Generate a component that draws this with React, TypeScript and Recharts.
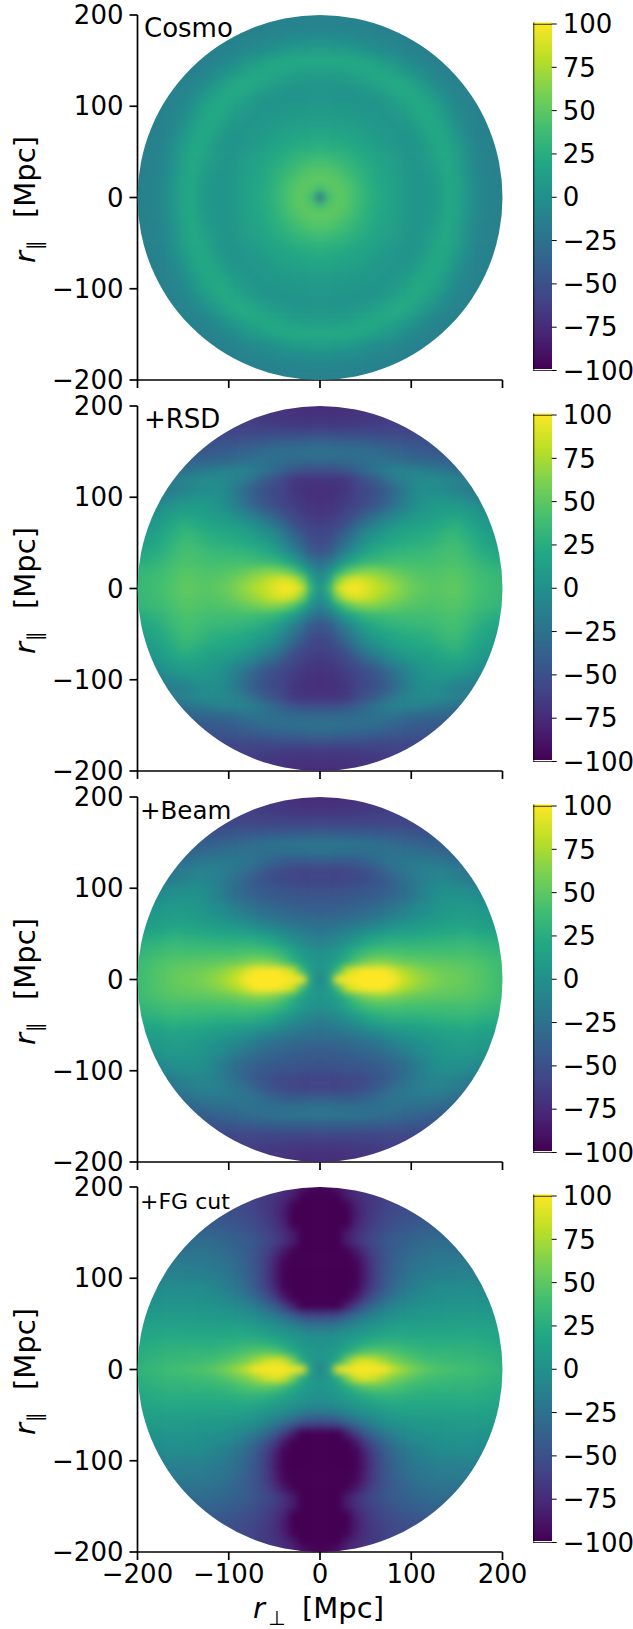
import React from "react";
import { ScatterChart, Scatter, BarChart, Bar, XAxis, YAxis } from "recharts";

const panelNames = ["Cosmo", "+RSD", "+Beam", "+FG cut"];
const axisTicks = [-200, -100, 0, 100, 200];
const colorTicks = [-100, -75, -50, -25, 0, 25, 50, 75, 100];
const colorRange = [-100, 100];
const viridis = ["#440154", "#482475", "#414487", "#355f8d", "#2a788e", "#21918c", "#22a884", "#44bf70", "#7ad151", "#bddf26", "#fde725"];

// one quadrant per panel, rows are r_par = 0, 10, 20.. and columns r_perp = 0, 10, 20..
const cosmoRows = [
  [-25, 38, 50, 46, 38, 30, 24, 18, 14, 9, 4, 3, 5, 9, 19, 17, 5, -4, -10, -12, -13, -14],
  [38, 47, 49, 45, 37, 29, 23, 18, 14, 9, 4, 3, 5, 9, 19, 17, 5, -4, -10, -12, -13, -14],
  [50, 49, 47, 41, 34, 28, 22, 17, 13, 9, 4, 3, 6, 11, 20, 16, 4, -5, -10, -12, -13, -14],
  [46, 45, 41, 36, 30, 25, 20, 16, 12, 7, 4, 3, 7, 13, 21, 15, 2, -6, -11, -13, -13, -14],
  [38, 37, 34, 30, 26, 22, 17, 14, 10, 6, 3, 4, 9, 15, 20, 12, 0, -8, -12, -13, -13, -14],
  [30, 29, 28, 25, 22, 18, 15, 12, 8, 4, 3, 5, 12, 19, 19, 11, 0, -8, -12, -13, -14, -14],
  [24, 23, 22, 20, 17, 15, 12, 8, 5, 3, 3, 6, 14, 20, 18, 9, -1, -8, -12, -13, -13, -14],
  [18, 18, 17, 16, 14, 12, 8, 6, 4, 3, 4, 10, 18, 20, 15, 4, -6, -11, -13, -13, -14, -14],
  [14, 14, 13, 12, 10, 8, 6, 4, 3, 4, 8, 15, 20, 18, 11, 1, -7, -11, -13, -13, -14],
  [9, 9, 9, 7, 6, 5, 4, 3, 4, 7, 14, 19, 20, 15, 5, -4, -10, -12, -13, -14, -14],
  [6, 6, 5, 5, 4, 3, 3, 4, 7, 12, 18, 21, 18, 11, 2, -6, -11, -13, -13, -14, -14],
  [4, 4, 3, 3, 3, 3, 4, 7, 12, 17, 21, 18, 12, 4, -4, -9, -12, -13, -14, -14],
  [3, 3, 3, 3, 4, 7, 10, 15, 19, 21, 18, 12, 4, -3, -8, -12, -13, -13, -14, -14],
  [7, 7, 8, 9, 12, 15, 18, 20, 20, 17, 11, 4, -3, -8, -11, -13, -13, -14, -14],
  [14, 14, 14, 16, 18, 20, 19, 16, 12, 6, 2, -4, -8, -11, -13, -13, -14, -14],
  [21, 21, 21, 20, 19, 17, 14, 9, 4, -1, -6, -9, -12, -13, -13, -14, -14],
  [12, 12, 11, 10, 7, 3, 0, -3, -6, -9, -11, -12, -13, -13, -14, -14],
  [2, 2, 1, 0, -2, -4, -6, -8, -10, -12, -13, -13, -14, -14, -14],
  [-7, -7, -7, -8, -8, -10, -11, -12, -13, -13, -13, -14, -14, -14],
  [-11, -11, -11, -11, -12, -12, -13, -13, -13, -13, -14, -14],
  [-13, -13, -13, -13, -13, -14, -14, -14, -14],
  [-14, -14, -14, -14, -14, -14],
];

const rsdRows = [
  [0, 30, 85, 98, 98, 92, 84, 78, 70, 62, 56, 52, 48, 48, 50, 50, 45, 41, 38, 35, 33, 32],
  [-5, 15, 60, 84, 90, 86, 78, 70, 64, 58, 52, 48, 46, 46, 48, 48, 44, 40, 37, 34, 32, 31],
  [-15, -2, 22, 42, 55, 60, 60, 56, 52, 48, 46, 44, 43, 44, 46, 46, 42, 38, 35, 32, 30, 29],
  [-30, -22, -5, 10, 22, 30, 34, 36, 37, 38, 38, 38, 38, 40, 42, 42, 38, 33, 29, 25, 23, 22],
  [-48, -42, -26, -10, 4, 14, 22, 26, 29, 31, 32, 33, 34, 37, 40, 39, 34, 28, 23, 19, 17, 16],
  [-55, -50, -38, -24, -10, 2, 10, 16, 20, 23, 25, 26, 28, 31, 36, 36, 30, 24, 18, 14, 12, 11],
  [-59, -56, -46, -34, -18, -6, 2, 8, 13, 17, 20, 22, 24, 27, 31, 32, 26, 20, 14, 10, 7, 6],
  [-63, -61, -56, -48, -34, -22, -12, -4, 2, 8, 12, 14, 16, 20, 24, 26, 20, 14, 9, 5, 2, 1],
  [-67, -66, -62, -56, -48, -36, -28, -18, -10, -3, 4, 8, 10, 14, 16, 16, 12, 8, 3, 0, -3],
  [-71, -70, -67, -62, -58, -52, -44, -36, -26, -16, -6, 1, 5, 8, 9, 8, 4, 0, -5, -8, -11],
  [-73, -72, -70, -66, -60, -55, -50, -42, -32, -20, -9, -1, 2, 3, 1, -3, -7, -11, -15, -18, -20],
  [-74, -73, -71, -68, -60, -56, -50, -43, -34, -22, -12, -3, -4, -6, -9, -13, -17, -21, -24, -26],
  [-70, -70, -69, -66, -58, -50, -42, -32, -22, -14, -10, -6, -4, -6, -9, -13, -17, -20, -23, -25],
  [-52, -52, -50, -46, -40, -32, -25, -18, -14, -12, -13, -14, -18, -20, -24, -27, -30, -32, -34],
  [-32, -32, -32, -31, -30, -28, -26, -26, -27, -29, -32, -33, -34, -35, -36, -38, -40, -42],
  [-26, -26, -26, -27, -27, -28, -29, -32, -36, -38, -40, -42, -44, -45, -46, -47, -48],
  [-36, -36, -37, -38, -39, -40, -42, -44, -46, -47, -48, -49, -50, -50, -51, -52],
  [-54, -54, -54, -54, -55, -55, -56, -56, -57, -57, -57, -57, -58, -58, -58],
  [-67, -67, -67, -66, -66, -65, -64, -63, -62, -62, -61, -60, -60, -60],
  [-72, -72, -71, -71, -70, -69, -68, -67, -66, -66, -65, -65],
  [-76, -76, -75, -74, -72, -71, -70, -68, -67],
  [-78, -78, -76, -74, -73, -72],
];

const beamRows = [
  [-14, 15, 105, 120, 125, 125, 125, 120, 108, 88, 78, 70, 64, 60, 56, 54, 52, 48, 44, 40, 36, 34],
  [3, 8, 36, 82, 95, 100, 102, 100, 90, 78, 70, 64, 60, 56, 54, 52, 50, 47, 44, 40, 36, 34],
  [3, 6, 14, 28, 44, 56, 62, 62, 58, 54, 52, 50, 49, 48, 48, 47, 46, 44, 41, 38, 35, 33],
  [-2, 2, 8, 18, 28, 36, 40, 42, 42, 41, 40, 40, 39, 39, 39, 39, 39, 37, 35, 32, 30, 29],
  [-13, -10, -5, 3, 10, 18, 24, 27, 29, 29, 29, 29, 30, 31, 32, 32, 33, 31, 29, 27, 25, 24],
  [-20, -18, -14, -10, -4, 3, 8, 11, 14, 16, 17, 18, 20, 21, 22, 23, 24, 22, 20, 18, 17, 16],
  [-27, -26, -24, -21, -18, -14, -10, -6, -2, 2, 5, 8, 10, 12, 15, 15, 15, 14, 12, 10, 9, 8],
  [-35, -35, -34, -32, -30, -27, -24, -20, -15, -10, -5, -1, 3, 6, 9, 10, 10, 9, 8, 6, 5, 4],
  [-42, -42, -41, -39, -37, -34, -31, -27, -23, -17, -11, -5, -1, 3, 5, 6, 6, 5, 3, 1, -1],
  [-48, -47, -46, -45, -44, -42, -40, -37, -33, -28, -22, -14, -6, 0, 2, 2, 0, -2, -4, -7, -9],
  [-53, -52, -51, -50, -49, -47, -45, -42, -38, -31, -24, -15, -8, -3, -2, -3, -5, -8, -11, -13, -15],
  [-60, -60, -59, -58, -57, -54, -50, -45, -38, -30, -22, -16, -12, -10, -10, -13, -18, -21, -24, -26],
  [-60, -60, -59, -58, -55, -51, -45, -38, -30, -24, -19, -15, -13, -13, -15, -18, -22, -25, -27, -29],
  [-42, -43, -44, -44, -42, -38, -32, -27, -24, -22, -20, -19, -20, -22, -25, -28, -31, -33, -35],
  [-26, -26, -27, -28, -28, -28, -27, -26, -26, -26, -27, -28, -30, -32, -34, -37, -39, -41],
  [-23, -23, -23, -24, -25, -26, -28, -30, -32, -34, -36, -38, -40, -42, -43, -45, -46],
  [-42, -42, -42, -42, -42, -43, -43, -44, -45, -46, -47, -48, -49, -50, -51, -52],
  [-56, -56, -56, -56, -56, -56, -56, -56, -56, -56, -57, -57, -58, -58, -58],
  [-66, -66, -65, -65, -64, -64, -63, -62, -62, -61, -60, -60, -60, -60],
  [-72, -72, -71, -70, -69, -68, -67, -66, -65, -64, -63, -63],
  [-76, -76, -75, -74, -72, -71, -69, -68, -67],
  [-78, -78, -76, -74, -73, -72],
];

const fgRows = [
  [-15, 12, 95, 115, 120, 120, 120, 108, 85, 72, 62, 54, 48, 44, 42, 40, 38, 36, 34, 31, 29, 28],
  [2, 5, 22, 58, 86, 90, 84, 72, 60, 53, 47, 42, 38, 36, 35, 34, 33, 32, 30, 28, 26, 25],
  [4, 6, 12, 22, 34, 44, 47, 46, 43, 39, 35, 32, 30, 30, 30, 29, 29, 28, 27, 25, 23, 22],
  [0, 1, 4, 10, 16, 22, 26, 28, 28, 27, 26, 25, 24, 24, 24, 24, 24, 24, 23, 21, 20, 19],
  [-8, -7, -4, 0, 4, 8, 12, 15, 17, 18, 18, 18, 18, 18, 18, 18, 18, 18, 17, 16, 15, 14],
  [-28, -27, -23, -17, -10, -4, 1, 5, 8, 10, 11, 11, 12, 12, 13, 13, 13, 13, 13, 12, 11, 10],
  [-62, -60, -54, -42, -30, -20, -12, -5, -1, 2, 4, 5, 6, 7, 8, 8, 9, 9, 9, 8, 7, 6],
  [-115, -110, -102, -82, -62, -44, -30, -20, -12, -6, -2, 0, 1, 2, 3, 3, 3, 3, 3, 2, 1, 0],
  [-120, -120, -115, -105, -85, -65, -48, -35, -25, -16, -10, -6, -3, -1, 0, 0, 0, -1, -1, -2, -3],
  [-125, -125, -120, -112, -97, -78, -60, -45, -33, -24, -17, -12, -8, -5, -4, -4, -4, -5, -6, -7, -8],
  [-125, -125, -125, -115, -99, -82, -63, -48, -37, -28, -21, -17, -14, -12, -11, -11, -11, -12, -13, -13, -14],
  [-125, -125, -125, -115, -99, -82, -64, -50, -39, -31, -25, -21, -18, -16, -15, -15, -16, -17, -18, -19],
  [-125, -125, -120, -112, -97, -80, -64, -51, -42, -35, -29, -25, -22, -20, -20, -20, -21, -22, -23, -24],
  [-120, -120, -115, -105, -87, -72, -60, -50, -43, -38, -33, -29, -26, -25, -25, -26, -27, -28, -29],
  [-112, -110, -102, -84, -72, -62, -54, -48, -43, -39, -36, -33, -30, -29, -29, -30, -32, -33],
  [-112, -110, -102, -85, -74, -65, -58, -52, -48, -44, -41, -38, -36, -35, -36, -37, -38],
  [-120, -118, -110, -100, -80, -70, -62, -57, -53, -49, -46, -44, -43, -42, -43, -44],
  [-120, -118, -110, -102, -84, -72, -65, -60, -56, -53, -50, -49, -48, -48, -48],
  [-118, -116, -108, -98, -82, -72, -66, -62, -58, -56, -54, -53, -53, -53],
  [-112, -110, -100, -84, -76, -70, -66, -63, -60, -58, -58, -58],
  [-100, -98, -88, -80, -75, -70, -66, -64, -62],
  [-95, -90, -84, -78, -74, -70],
];

const panelRows = [cosmoRows, rsdRows, beamRows, fgRows];

const WIDTH = 633;
const PLOT_LEFT = 137.5;
const PLOT_SIZE = 365;
const PAD_TOP = 15;
const PANEL_TOPS = [15, 406, 796.5, 1187];
const BAR_TOPS = [24, 415, 805.5, 1196];
const BAR_H = 346.5;
const CELL_PX = (10 / 400) * PLOT_SIZE + 0.6;
const FONT = 26;
const TITLE_X = [144, 144, 140, 140];
const TITLE_SIZE = [26, 26, 24.5, 22];

const hex = (c: string) => [1, 3, 5].map((k) => parseInt(c.slice(k, k + 2), 16));
function colorOf(v: number) {
  const t = Math.max(0, Math.min(1, (v + 100) / 200)) * (viridis.length - 1);
  const i = Math.min(Math.floor(t), viridis.length - 2);
  const a = hex(viridis[i]);
  const b = hex(viridis[i + 1]);
  const f = t - i;
  return `rgb(${a.map((p, k) => Math.round(p + (b[k] - p) * f)).join(",")})`;
}

// the table holds one quadrant, the picture repeats it in the other three
function mirrored(rows: number[][]) {
  const out: { x: number; y: number; value: number }[] = [];
  rows.forEach((row, j) =>
    row.forEach((value, i) => {
      for (const sx of i === 0 ? [1] : [1, -1]) {
        for (const sy of j === 0 ? [1] : [1, -1]) {
          out.push({ x: sx * i * 10, y: sy * j * 10, value });
        }
      }
    })
  );
  return out;
}

const minus = (v: number) => String(v).replace("-", "\u2212");

const HeatCell = (props: any) => (
  <rect
    x={props.cx - CELL_PX / 2}
    y={props.cy - CELL_PX / 2}
    width={CELL_PX}
    height={CELL_PX}
    fill={colorOf(props.payload.value)}
  />
);

const axisStroke = { stroke: "#000", strokeWidth: 1.7 };

const Panel = ({ index }: { index: number }) => {
  const isLast = index === panelRows.length - 1;
  const cx = PLOT_LEFT + PLOT_SIZE / 2;
  const cy = PAD_TOP + PLOT_SIZE / 2;
  return (
    <div className={`heat-${index}`} style={{ position: "absolute", left: 0, top: PANEL_TOPS[index] - PAD_TOP }}>
      <style>{`.heat-${index} .recharts-scatter{filter:url(#blur-${index});clip-path:url(#disc-${index})}
.heat-${index} .recharts-scatter g{clip-path:none}`}</style>
      <ScatterChart width={WIDTH} height={457} margin={{ top: PAD_TOP, left: 0, bottom: 0, right: WIDTH - PLOT_LEFT - PLOT_SIZE }}>
        <defs>
          <filter id={`blur-${index}`} x="-10%" y="-10%" width="120%" height="120%" colorInterpolationFilters="sRGB">
            <feGaussianBlur stdDeviation={3.5} />
          </filter>
          <clipPath id={`disc-${index}`}>
            <circle cx={cx} cy={cy} r={PLOT_SIZE / 2} />
          </clipPath>
        </defs>
        <XAxis
          type="number"
          dataKey="x"
          domain={[-200, 200]}
          allowDataOverflow
          ticks={axisTicks}
          interval={0}
          height={77}
          tickSize={8}
          tickMargin={5}
          tick={{ fontSize: FONT, fill: "#000" }}
          tickFormatter={(v) => (isLast ? minus(v) : "")}
          axisLine={axisStroke}
          tickLine={axisStroke}
        />
        <YAxis
          type="number"
          dataKey="y"
          domain={[-200, 200]}
          allowDataOverflow
          ticks={axisTicks}
          interval={0}
          width={PLOT_LEFT}
          tickSize={8}
          tickMargin={6}
          tick={{ fontSize: FONT, fill: "#000" }}
          tickFormatter={minus}
          axisLine={axisStroke}
          tickLine={axisStroke}
        />
        <Scatter data={mirrored(panelRows[index])} shape={HeatCell} isAnimationActive={false} />
        <text x={TITLE_X[index]} y={PAD_TOP + 21.5} fontSize={TITLE_SIZE[index]} fill="#000">
          {panelNames[index]}
        </text>
        <g transform={`translate(34.5 ${cy + 65.5}) rotate(-90)`} fontSize={29} fill="#000">
          <text x={0} y={0} fontStyle="italic">r</text>
          <text x={13} y={7} fontSize={20}>{"\u2225"}</text>
          <text x={45} y={0}>[Mpc]</text>
        </g>
        {isLast && (
          <g transform={`translate(253 ${1618 - PANEL_TOPS[index] + PAD_TOP})`} fontSize={29} fill="#000">
            <text x={0} y={0} fontStyle="italic">r</text>
            <text x={15} y={7} fontSize={20}>{"\u22a5"}</text>
            <text x={49} y={0}>[Mpc]</text>
          </g>
        )}
      </ScatterChart>
    </div>
  );
};

// gradient bar with the dark left and top edges and the thin white gap at the bottom
const ScaleBar = (props: any) => {
  const { x, y, width, height, fill } = props;
  return (
    <g>
      <rect x={x} y={y - 1.5} width={width} height={height} fill={fill} />
      <rect x={x} y={y + height - 1.5} width={width} height={1.5} fill="#fff" />
      <path d={`M${x + 0.7} ${y + height}V${y - 1.5}`} stroke="#000" strokeOpacity={0.55} strokeWidth={1.4} fill="none" />
      <path d={`M${x} ${y + 0.3}H${x + width}M${x} ${y + height}H${x + width}`} stroke="#000" strokeOpacity={0.75} strokeWidth={1} fill="none" />
    </g>
  );
};

const ColorBar = ({ index }: { index: number }) => (
  <div style={{ position: "absolute", left: 533, top: BAR_TOPS[index] - 14 }}>
    <BarChart
      width={100}
      height={BAR_H + 28}
      data={[{ name: "scale", span: colorRange }]}
      margin={{ top: 14, bottom: 14, left: 0, right: 0 }}
      barCategoryGap={0}
    >
      <defs>
        <linearGradient id={`scale-${index}`} x1="0" y1="1" x2="0" y2="0">
          {viridis.map((c, k) => (
            <stop key={c} offset={k / (viridis.length - 1)} stopColor={c} />
          ))}
        </linearGradient>
      </defs>
      <XAxis dataKey="name" hide />
      <YAxis
        orientation="right"
        type="number"
        domain={colorRange}
        ticks={colorTicks}
        interval={0}
        width={81.3}
        tickSize={5}
        tickMargin={6}
        tick={{ fontSize: FONT, fill: "#000" }}
        tickFormatter={minus}
        axisLine={false}
        tickLine={{ stroke: "#000", strokeWidth: 1 }}
      />
      <Bar dataKey="span" fill={`url(#scale-${index})`} shape={ScaleBar} isAnimationActive={false} />
    </BarChart>
  </div>
);

export default function App() {
  return (
    <div style={{ position: "absolute", left: 0, top: 0, width: WIDTH, height: 1629, fontFamily: "'DejaVu Sans'", background: "#fff" }}>
      {panelNames.map((name, i) => (
        <React.Fragment key={name}>
          <Panel index={i} />
          <ColorBar index={i} />
        </React.Fragment>
      ))}
    </div>
  );
}
